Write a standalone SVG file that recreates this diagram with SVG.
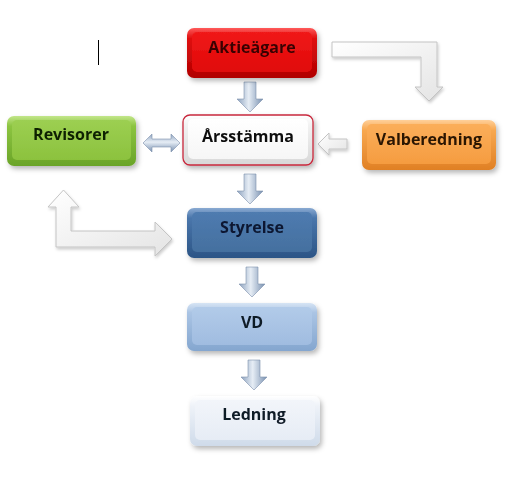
<svg xmlns="http://www.w3.org/2000/svg" width="507" height="504" viewBox="0 0 507 504">
<defs>
<filter id="sh" x="-20%" y="-20%" width="140%" height="150%"><feDropShadow dx="2" dy="3" stdDeviation="2.5" flood-color="#000" flood-opacity="0.28"/></filter>
<filter id="sh2" x="-20%" y="-20%" width="140%" height="150%"><feDropShadow dx="1" dy="2" stdDeviation="1.5" flood-color="#000" flood-opacity="0.2"/></filter>
<linearGradient id="oRed" x1="0" y1="0" x2="0" y2="1"><stop offset="0" stop-color="#ff5a5a"/><stop offset="0.2" stop-color="#e01010"/><stop offset="1" stop-color="#b00000"/></linearGradient>
<linearGradient id="gRed" x1="0" y1="0" x2="0" y2="1"><stop offset="0" stop-color="#f01a1a"/><stop offset="1" stop-color="#e00808"/></linearGradient>
<linearGradient id="oGreen" x1="0" y1="0" x2="0" y2="1"><stop offset="0" stop-color="#c2e68a"/><stop offset="0.2" stop-color="#8cc440"/><stop offset="1" stop-color="#6aa428"/></linearGradient>
<linearGradient id="gGreen" x1="0" y1="0" x2="0" y2="1"><stop offset="0" stop-color="#9ccf52"/><stop offset="1" stop-color="#8cc23e"/></linearGradient>
<linearGradient id="oOrange" x1="0" y1="0" x2="0" y2="1"><stop offset="0" stop-color="#ffd09a"/><stop offset="0.2" stop-color="#f8a850"/><stop offset="1" stop-color="#e08024"/></linearGradient>
<linearGradient id="gOrange" x1="0" y1="0" x2="0" y2="1"><stop offset="0" stop-color="#fbae5a"/><stop offset="1" stop-color="#f59c40"/></linearGradient>
<linearGradient id="oNavy" x1="0" y1="0" x2="0" y2="1"><stop offset="0" stop-color="#8aaad2"/><stop offset="0.2" stop-color="#4a76ab"/><stop offset="1" stop-color="#2c5586"/></linearGradient>
<linearGradient id="gNavy" x1="0" y1="0" x2="0" y2="1"><stop offset="0" stop-color="#4f7bb0"/><stop offset="1" stop-color="#44709f"/></linearGradient>
<linearGradient id="oLight" x1="0" y1="0" x2="0" y2="1"><stop offset="0" stop-color="#d6e4f4"/><stop offset="0.2" stop-color="#aac4e4"/><stop offset="1" stop-color="#84a6cf"/></linearGradient>
<linearGradient id="gLight" x1="0" y1="0" x2="0" y2="1"><stop offset="0" stop-color="#b2cbe9"/><stop offset="1" stop-color="#a0bce0"/></linearGradient>
<linearGradient id="oPale" x1="0" y1="0" x2="0" y2="1"><stop offset="0" stop-color="#ffffff"/><stop offset="0.2" stop-color="#eef2f8"/><stop offset="1" stop-color="#cfdbea"/></linearGradient>
<linearGradient id="gPale" x1="0" y1="0" x2="0" y2="1"><stop offset="0" stop-color="#f2f5fa"/><stop offset="1" stop-color="#e6ecf5"/></linearGradient>
<linearGradient id="oWhite" x1="0" y1="0" x2="0" y2="1"><stop offset="0" stop-color="#ffffff"/><stop offset="0.2" stop-color="#f2f2f2"/><stop offset="1" stop-color="#d8d8d8"/></linearGradient>
<linearGradient id="gWhite" x1="0" y1="0" x2="0" y2="1"><stop offset="0" stop-color="#ffffff"/><stop offset="1" stop-color="#f6f6f6"/></linearGradient>
<linearGradient id="gArrow" x1="0" y1="0" x2="1" y2="0"><stop offset="0" stop-color="#8ea3bf"/><stop offset="0.45" stop-color="#e6edf5"/><stop offset="1" stop-color="#7890b0"/></linearGradient>
<linearGradient id="gArrowV" x1="0" y1="0" x2="0" y2="1"><stop offset="0" stop-color="#8ea3bf"/><stop offset="0.45" stop-color="#e6edf5"/><stop offset="1" stop-color="#7890b0"/></linearGradient>
<linearGradient id="gGray" x1="0" y1="0" x2="1" y2="1"><stop offset="0" stop-color="#ffffff"/><stop offset="1" stop-color="#e4e4e4"/></linearGradient>
<path id="down" d="M-6,0 H6 V17 H13 L0,30 L-13,17 H-6 Z"/>
</defs>
<style>
.t{font-family:"Open Sans","DejaVu Sans",sans-serif;font-weight:bold;font-size:16px;text-anchor:middle}
.arr{fill:url(#gArrow);stroke:#7d91ad;stroke-width:0.6}
.garr{fill:url(#gGray);stroke:#c4c4c4;stroke-width:1}
</style>

<line x1="98.5" y1="40" x2="98.5" y2="65" stroke="#000" stroke-width="1"/>

<g id="connectors">
<use href="#down" class="arr" transform="translate(250,82)"/>
<use href="#down" class="arr" transform="translate(250,174)"/>
<use href="#down" class="arr" transform="translate(252,267)"/>
<use href="#down" class="arr" transform="translate(254,360)"/>
<path class="arr" style="fill:url(#gArrowV)" d="M143,143 L152,134 V139 H171 V134 L180,143 L171,152 V147 H152 V152 Z"/>
<path class="garr" filter="url(#sh2)" d="M318,144 L329,133 V139 H347 V149 H329 V155 Z"/>
<path class="garr" filter="url(#sh2)" d="M332,42 H437 V87 H443 L429,101 L415,87 H421 V57 H332 Z"/>
<path class="garr" filter="url(#sh2)" d="M63.5,190 L79,207 H71 V231 H155 V222 L172,239 L155,256 V247 H56 V207 H48 Z"/>
</g>

<g id="aktieagare" filter="url(#sh)">
<rect x="187" y="28" width="130" height="50" rx="7" fill="url(#oRed)"/>
<rect x="192" y="32" width="120" height="40" rx="5" fill="url(#gRed)"/>
<text class="t" x="252" y="53" fill="#3a0505">Aktieägare</text>
</g>

<g id="arsstamma" filter="url(#sh)">
<rect x="183" y="115" width="130" height="50" rx="7" fill="url(#oWhite)" stroke="#c8283c" stroke-width="1.3"/>
<rect x="188" y="119" width="120" height="40" rx="5" fill="url(#gWhite)"/>
<text class="t" x="248" y="142" fill="#111">Årsstämma</text>
</g>

<g id="revisorer" filter="url(#sh)">
<rect x="7" y="116" width="129" height="50" rx="7" fill="url(#oGreen)"/>
<rect x="12" y="120" width="119" height="40" rx="5" fill="url(#gGreen)"/>
<text class="t" x="71" y="140" fill="#102005">Revisorer</text>
</g>

<g id="valberedning" filter="url(#sh)">
<rect x="362" y="120" width="134" height="50" rx="7" fill="url(#oOrange)"/>
<rect x="367" y="124" width="124" height="40" rx="5" fill="url(#gOrange)"/>
<text class="t" x="429" y="145" fill="#2a1505">Valberedning</text>
</g>

<g id="styrelse" filter="url(#sh)">
<rect x="187" y="208" width="130" height="50" rx="7" fill="url(#oNavy)"/>
<rect x="192" y="212" width="120" height="40" rx="5" fill="url(#gNavy)"/>
<text class="t" x="252" y="233" fill="#0c1830">Styrelse</text>
</g>

<g id="vd" filter="url(#sh)">
<rect x="187" y="303" width="130" height="48" rx="7" fill="url(#oLight)"/>
<rect x="192" y="307" width="120" height="38" rx="5" fill="url(#gLight)"/>
<text class="t" x="252" y="328" fill="#111a28">VD</text>
</g>

<g id="ledning" filter="url(#sh)">
<rect x="190" y="396" width="130" height="50" rx="7" fill="url(#oPale)"/>
<rect x="195" y="400" width="120" height="40" rx="5" fill="url(#gPale)"/>
<text class="t" x="254" y="420" fill="#111a28">Ledning</text>
</g>
</svg>
